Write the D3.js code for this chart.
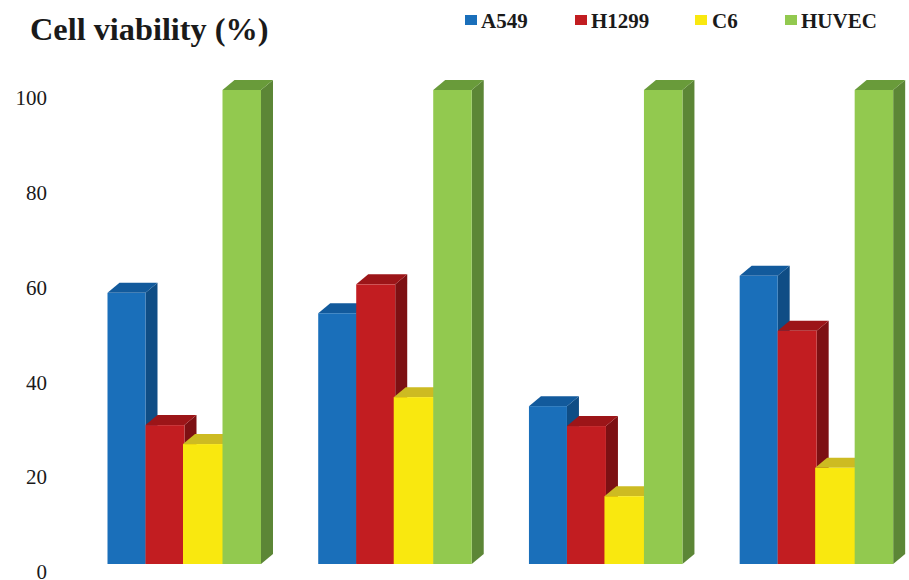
<!DOCTYPE html>
<html>
<head>
<meta charset="utf-8">
<script src="https://cdnjs.cloudflare.com/ajax/libs/d3/7.8.5/d3.min.js"></script>
<style>
  html, body { margin: 0; padding: 0; background: #fff; }
  svg { display: block; }
  text { font-family: "Liberation Serif", serif; fill: #1a1a1a; }
  .domain { display: none; }
</style>
</head>
<body>
<svg id="chart" width="909" height="580"></svg>
<script>
var groups = ["g1", "g2", "g3", "g4"]
var seriesNames = ["A549", "H1299", "C6", "HUVEC"]
var a549 = [57.2, 52.9, 33.3, 60.8]
var h1299 = [29.3, 59.0, 29.1, 49.2]
var c6 = [25.3, 35.2, 14.3, 20.3]
var huvec = [100, 100, 100, 100]
var yTicks = [0, 20, 40, 60, 80, 100]

var seriesValues = [a549, h1299, c6, huvec]
var colors = ["#1a6fba", "#c21d21", "#f9e80f", "#92c94f"]
var topColors = ["#125a9c", "#9c1518", "#cdbb22", "#699b3a"]
var sideColors = ["#0f4d85", "#7d1013", "#a89a1a", "#5c8636"]

var svg = d3.select("#chart")

var x0 = d3.scaleBand().domain(groups).range([107.5, 893.5]).paddingInner(0.27).paddingOuter(0)
// the bars are not quite the same width in the picture, so offsets by hand
var x1 = d3.scaleOrdinal().domain(seriesNames).range([0, 38, 75.5, 115])
var barW = d3.scaleOrdinal().domain(seriesNames).range([38, 39, 40, 38.5])
var y = d3.scaleLinear().domain([0, 100]).range([564, 90])

// 3d offset of the bars
var dx = 12, dy = 10

var yAxis = d3.axisLeft(y).tickValues(yTicks).tickSize(0).tickPadding(0)
svg.append("g")
    .attr("transform", "translate(47,8)")
    .call(yAxis)
    .call(g => g.selectAll("text").style("font-size", "21px").style("font-family", '"Liberation Serif", serif').attr("fill", "#1a1a1a"))

// draw series by series, so each bar covers the side of the one before
seriesNames.forEach((name, s) => {
    var bars = svg.append("g").attr("class", "series")
        .selectAll("g")
        .data(groups.map((g, i) => ({ group: g, value: seriesValues[s][i] })))
        .enter()
        .append("g")

    bars.append("path")
        .attr("fill", sideColors[s])
        .attr("d", d => {
            var r = x0(d.group) + x1(name) + barW(name)
            return `M${r},${y(d.value)}l${dx},${-dy}V${y(0) - dy}l${-dx},${dy}Z`
        })

    bars.append("path")
        .attr("fill", topColors[s])
        .attr("d", d => {
            var l = x0(d.group) + x1(name)
            return `M${l},${y(d.value)}l${dx},${-dy}h${barW(name)}l${-dx},${dy}Z`
        })

    bars.append("rect")
        .attr("fill", colors[s])
        .attr("x", d => x0(d.group) + x1(name))
        .attr("y", d => y(d.value))
        .attr("width", d => barW(name))
        .attr("height", d => y(0) - y(d.value))
})

svg.append("text")
    .attr("x", 30)
    .attr("y", 40)
    .style("font-size", "32.3px")
    .style("font-weight", "bold")
    .text("Cell viability (%)")

var legendX = d3.scaleOrdinal().domain(seriesNames).range([465, 575, 695, 785])
var legend = svg.selectAll(".legend")
    .data(seriesNames)
    .enter()
    .append("g")
    .attr("class", "legend")

legend.append("rect")
    .attr("x", d => legendX(d))
    .attr("y", 15)
    .attr("width", 12)
    .attr("height", 10)
    .attr("fill", (d, i) => colors[i])

legend.append("text")
    .attr("x", d => legendX(d) + (d == "C6" ? 17 : 16))
    .attr("y", 28)
    .style("font-size", "21px")
    .style("font-weight", "bold")
    .text(d => d)
</script>
</body>
</html>
